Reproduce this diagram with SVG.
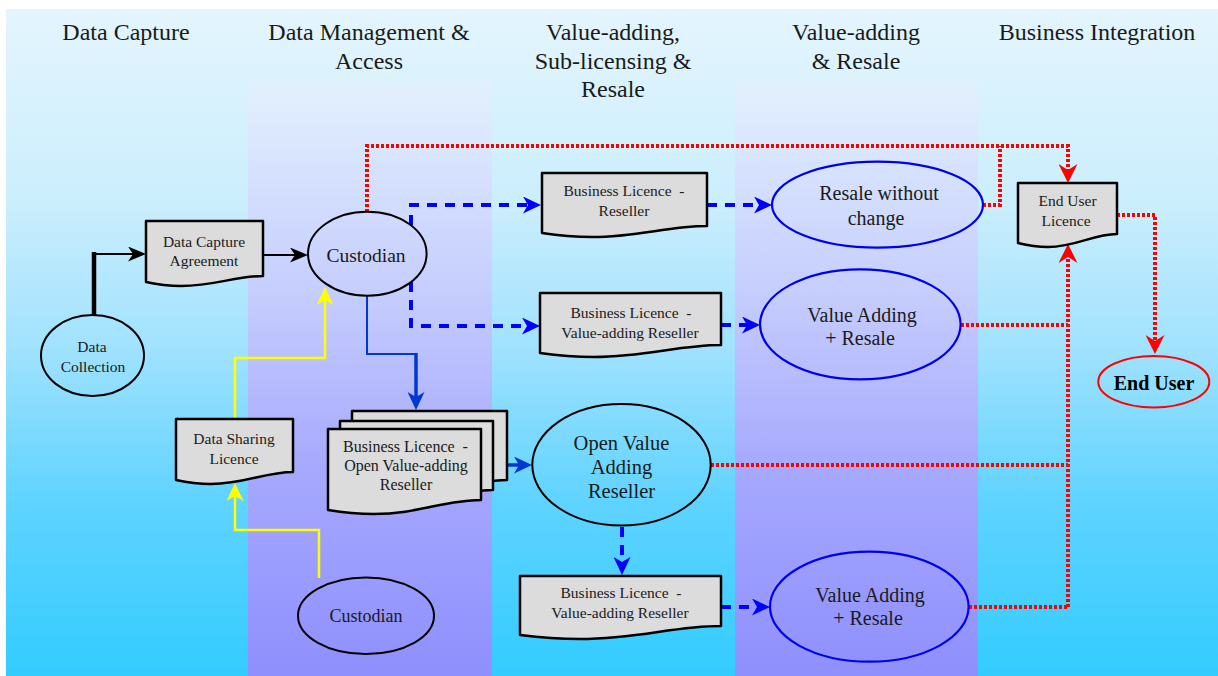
<svg xmlns="http://www.w3.org/2000/svg" width="1218" height="676" viewBox="0 0 1218 676">
<defs>
<linearGradient id="bg" x1="0" y1="9" x2="0" y2="676" gradientUnits="userSpaceOnUse">
<stop offset="0" stop-color="#e4f5fd"/>
<stop offset="0.29" stop-color="#cbeefd"/>
<stop offset="0.51" stop-color="#a0e2fe"/>
<stop offset="0.74" stop-color="#5fd3ff"/>
<stop offset="1" stop-color="#33ccff"/>
</linearGradient>
<linearGradient id="lane" x1="0" y1="82" x2="0" y2="676" gradientUnits="userSpaceOnUse">
<stop offset="0" stop-color="#e2f1fd"/>
<stop offset="0.35" stop-color="#c6cefd"/>
<stop offset="0.65" stop-color="#a6a9fd"/>
<stop offset="1" stop-color="#8f8ffd"/>
</linearGradient>
<marker id="mBlack" markerUnits="userSpaceOnUse" markerWidth="18" markerHeight="15" viewBox="0 0 18 15" refX="10" refY="7.5" orient="auto"><path d="M0,0 L18,7.5 L0,15 L5,7.5 Z" fill="#000"/></marker>
<marker id="mBlue" markerUnits="userSpaceOnUse" markerWidth="18" markerHeight="17" viewBox="0 0 18 17" refX="10" refY="8.5" orient="auto"><path d="M0,0 L18,8.5 L0,17 L5,8.5 Z" fill="#0000ff"/></marker>
<marker id="mBlueS" markerUnits="userSpaceOnUse" markerWidth="18" markerHeight="17" viewBox="0 0 18 17" refX="10" refY="8.5" orient="auto"><path d="M0,0 L18,8.5 L0,17 L5,8.5 Z" fill="#0038d0"/></marker>
<marker id="mRed" markerUnits="userSpaceOnUse" markerWidth="19" markerHeight="19" viewBox="0 0 19 19" refX="11" refY="9.5" orient="auto"><path d="M0,0 L19,9.5 L0,19 L6,9.5 Z" fill="#ff0000"/></marker>
<marker id="mYellow" markerUnits="userSpaceOnUse" markerWidth="18" markerHeight="17" viewBox="0 0 18 17" refX="10" refY="8.5" orient="auto"><path d="M0,0 L18,8.5 L0,17 L5,8.5 Z" fill="#ffff00"/></marker>
</defs>
<style>
text{font-family:"Liberation Serif","Times New Roman",serif;fill:#1a1a1a;text-anchor:middle}
.hd{font-size:24px}
.big{font-size:20px}
.sm{font-size:15.5px}
.pre{white-space:pre}
.doc{fill:#dcdcdc;stroke:#000;stroke-width:2.5;stroke-linejoin:round}
.ell{fill:none;stroke:#000;stroke-width:2}
.ellb{fill:none;stroke:#0000ee;stroke-width:2.2}
.c{fill:none}
.blk{stroke:#000;stroke-width:2}
.bd{stroke:#0000ff;stroke-width:4;stroke-dasharray:10 8}
.bs{stroke:#0038d0}
.rd{stroke:#ff0000;stroke-width:4;stroke-dasharray:3 2}
.yl{stroke:#ffff00;stroke-width:2.5}
</style>
<rect x="0" y="0" width="1218" height="676" fill="#ffffff"/>
<rect x="6" y="9" width="1212" height="667" fill="url(#bg)"/>
<rect x="248" y="82" width="244" height="594" fill="url(#lane)"/>
<rect x="735" y="82" width="243" height="594" fill="url(#lane)"/>
<g id="headers">
<text class="hd" x="126" y="40">Data Capture</text>
<text class="hd" x="369" y="40">Data Management &amp;</text>
<text class="hd" x="369" y="68.5">Access</text>
<text class="hd" x="613" y="40">Value-adding,</text>
<text class="hd" x="613" y="68.5">Sub-licensing &amp;</text>
<text class="hd" x="613" y="97">Resale</text>
<text class="hd" x="856" y="40">Value-adding</text>
<text class="hd" x="856" y="68.5">&amp; Resale</text>
<text class="hd" x="1097" y="40">Business Integration</text>
</g>
<g id="connectors">
<path class="c" d="M94,316 V252" stroke="#000" stroke-width="4.5"/>
<path class="c blk" d="M92,254 H138" marker-end="url(#mBlack)"/>
<path class="c blk" d="M263,255 H300" marker-end="url(#mBlack)"/>
<path class="c bd" d="M411,225 V205 H533" marker-end="url(#mBlue)"/>
<path class="c bd" d="M411,282 V326 H532" marker-end="url(#mBlue)"/>
<path class="c bd" d="M707,205 H764" marker-end="url(#mBlue)"/>
<path class="c bd" d="M721,325 H752" marker-end="url(#mBlue)"/>
<path class="c bd" d="M622,527 V567" marker-end="url(#mBlue)"/>
<path class="c bd" d="M721,607 H762" marker-end="url(#mBlue)"/>
<path class="c bs" stroke-width="2" d="M367,296 V354 H416"/>
<path class="c bs" stroke-width="3.5" d="M416,353 V402" marker-end="url(#mBlueS)"/>
<path class="c bs" stroke-width="3.5" d="M507,465 H524" marker-end="url(#mBlueS)"/>
<path class="c rd" stroke-width="3" d="M367,212 V146 H1068 V175" marker-end="url(#mRed)"/>
<path class="c rd" d="M983,205 H1000 V146"/>
<path class="c rd" d="M1117,215 H1155 V346" marker-end="url(#mRed)"/>
<path class="c rd" d="M1068,607 V252" marker-end="url(#mRed)"/>
<path class="c rd" d="M961,325 H1068"/>
<path class="c rd" d="M711,465 H1068"/>
<path class="c rd" d="M969,607 H1068"/>
<path class="c yl" d="M235,419 V358 H325 V295" marker-end="url(#mYellow)"/>
<path class="c yl" d="M319,578 V530 H235 V491" marker-end="url(#mYellow)"/>
</g>
<g id="data-collection">
<ellipse class="ell" cx="92.5" cy="355.5" rx="51.5" ry="40.5"/>
<text class="sm" x="92" y="351.5">Data</text>
<text class="sm" x="93" y="371.5">Collection</text>
</g>
<g id="data-capture-agreement">
<path class="doc" d="M146,221 H263 V276 C235,276 215,286 181,286 C166,286 155,284 146,282 Z"/>
<text class="sm" x="204" y="246.5">Data Capture</text>
<text class="sm" x="204" y="266">Agreement</text>
</g>
<g id="custodian">
<ellipse class="ell" cx="367.3" cy="253.7" rx="59.3" ry="42"/>
<text class="big" x="366" y="261.5" style="font-size:19.5px">Custodian</text>
</g>
<g id="bl-reseller">
<path class="doc" d="M542,173 H707 V226 C667,226 639,237 592,237 C570,237 555,235 542,233 Z"/>
<text class="sm pre" x="624" y="196">Business Licence  -</text>
<text class="sm" x="624" y="216">Reseller</text>
</g>
<g id="resale-without-change">
<ellipse class="ellb" cx="877.5" cy="204.7" rx="105.5" ry="43"/>
<text class="big" x="879" y="200">Resale without</text>
<text class="big" x="876" y="225">change</text>
</g>
<g id="bl-value-adding-reseller-1">
<path class="doc" d="M540,293 H721 V345 C678,345 647,357 594,357 C571,357 554,355 540,353 Z"/>
<text class="sm pre" x="631" y="318.3">Business Licence  -</text>
<text class="sm" x="630" y="338.3">Value-adding Reseller</text>
</g>
<g id="value-adding-resale-1">
<ellipse class="ellb" cx="860.3" cy="324.3" rx="100.3" ry="55"/>
<text class="big" x="862" y="321.5">Value Adding</text>
<text class="big" x="860" y="344.5">+ Resale</text>
</g>
<g id="end-user-licence">
<path class="doc" d="M1018,183 H1117 V234 C1093,234 1076,247 1048,247 C1035,247 1026,245 1018,243 Z"/>
<text class="sm" x="1067.5" y="206">End User</text>
<text class="sm" x="1066" y="226">Licence</text>
</g>
<g id="end-user">
<ellipse cx="1153.8" cy="381.7" rx="55.5" ry="25.7" fill="none" stroke="#ff0000" stroke-width="2"/>
<text x="1154" y="390" style="font-size:20px;font-weight:bold;fill:#000">End User</text>
</g>
<g id="data-sharing-licence">
<path class="doc" d="M176,419 H293 V472 C265,472 245,484 211,484 C196,484 185,482 176,480 Z"/>
<text class="sm" x="234" y="444">Data Sharing</text>
<text class="sm" x="234" y="464">Licence</text>
</g>
<g id="bl-open-value-adding-reseller">
<path class="doc" d="M352,411 H507 V480 C470,480 444,494 398,494 C378,494 364,492 352,490 Z"/>
<path class="doc" d="M340,421 H493 V490 C456,490 430,504 386,504 C366,504 352,502 340,500 Z"/>
<path class="doc" d="M328,429 H481 V500 C444,500 418,514 374,514 C354,514 340,512 328,510 Z"/>
<text class="sm pre" x="405.5" y="451.7" style="font-size:16px">Business Licence  -</text>
<text class="sm" x="406" y="470.5" style="font-size:16px">Open Value-adding</text>
<text class="sm" x="406" y="489.5" style="font-size:16px">Reseller</text>
</g>
<g id="open-value-adding-reseller">
<ellipse class="ell" cx="621.5" cy="464.8" rx="89.2" ry="60.8"/>
<text class="big" x="621.5" y="450" style="font-size:20.5px">Open Value</text>
<text class="big" x="621.5" y="474" style="font-size:20.5px">Adding</text>
<text class="big" x="621.5" y="498" style="font-size:20.5px">Reseller</text>
</g>
<g id="bl-value-adding-reseller-2">
<path class="doc" d="M520,576 H721 V626 C673,626 639,639 580,639 C554,639 536,637 520,635 Z"/>
<text class="sm pre" x="621" y="598">Business Licence  -</text>
<text class="sm" x="620" y="618">Value-adding Reseller</text>
</g>
<g id="value-adding-resale-2">
<ellipse class="ellb" cx="869.3" cy="606.7" rx="99.3" ry="55"/>
<text class="big" x="870" y="601.5">Value Adding</text>
<text class="big" x="868" y="625">+ Resale</text>
</g>
<g id="custodian-2">
<ellipse class="ell" cx="366" cy="615.7" rx="68" ry="38.3"/>
<text x="366" y="621.5" style="font-size:18px">Custodian</text>
</g>
</svg>
